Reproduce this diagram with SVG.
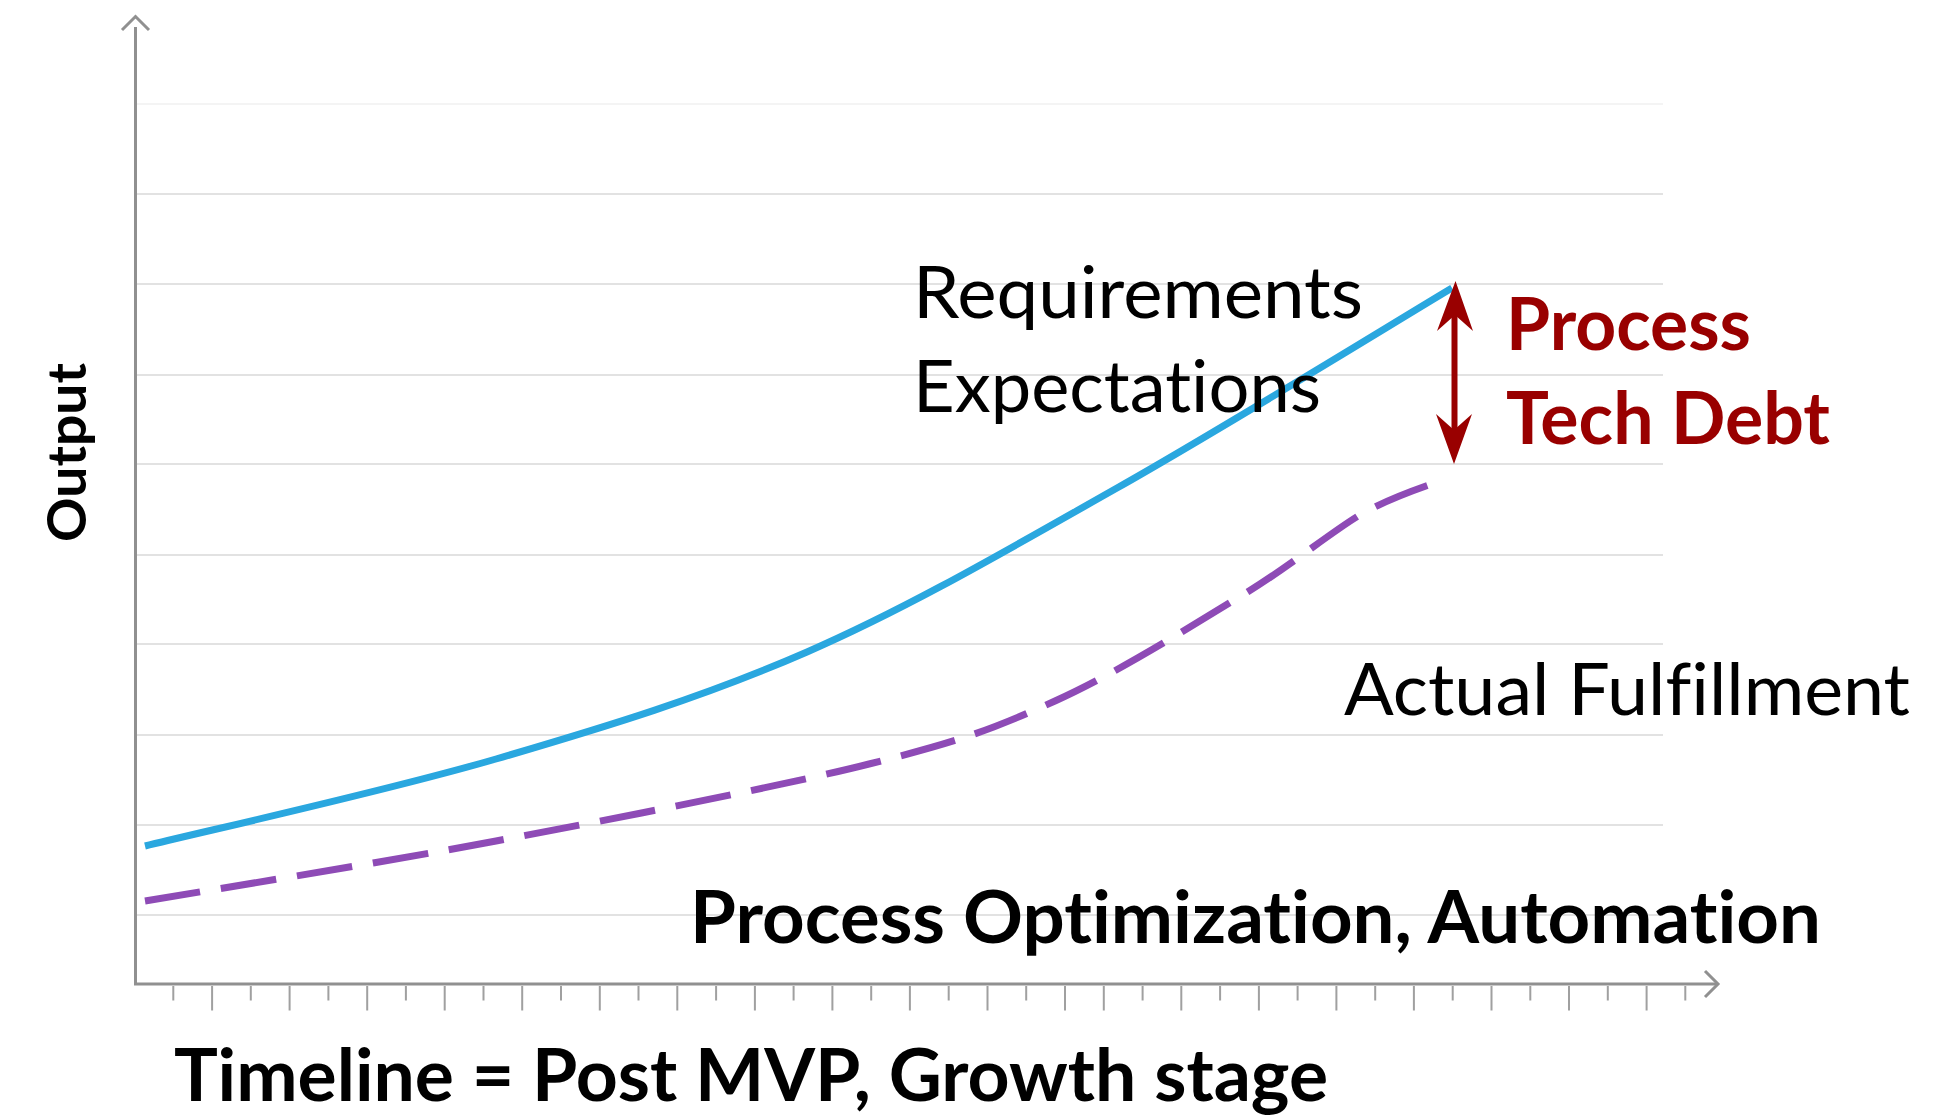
<svg xmlns="http://www.w3.org/2000/svg" width="1946" height="1120" viewBox="0 0 1946 1120">
<style>
.grid{stroke:#d9d9d9;stroke-width:1.5;fill:none}
.axis{stroke:#909090;stroke-width:3;fill:none}
.tick{stroke:#a0a0a0;stroke-width:2;fill:none}
.lbl{font-family:Lato,"Open Sans","Liberation Sans",sans-serif;fill:#000;font-variant-ligatures:none;font-feature-settings:"liga" 0,"dlig" 0}
.reg{font-size:71px;font-weight:400}
.bold{font-size:73px;font-weight:700}
.red{fill:#990000}
</style>
<rect width="1946" height="1120" fill="#ffffff"/>
<g id="gridlines">
<line class="grid" x1="137" y1="104" x2="1663" y2="104" style="stroke:#f0f0f0"/>
<line class="grid" x1="137" y1="194" x2="1663" y2="194"/>
<line class="grid" x1="137" y1="284" x2="1663" y2="284"/>
<line class="grid" x1="137" y1="375" x2="1663" y2="375"/>
<line class="grid" x1="137" y1="464" x2="1663" y2="464"/>
<line class="grid" x1="137" y1="555" x2="1663" y2="555"/>
<line class="grid" x1="137" y1="644" x2="1663" y2="644"/>
<line class="grid" x1="137" y1="735" x2="1663" y2="735"/>
<line class="grid" x1="137" y1="825" x2="1663" y2="825"/>
<line class="grid" x1="137" y1="915" x2="1663" y2="915"/>
</g>
<g id="axes">
<path class="axis" d="M135.5,984 V27"/>
<path class="axis" d="M122,30 L135.5,16.5 L149,30"/>
<path class="axis" d="M134,984 H1716"/>
<path class="axis" d="M1705,971 L1718,984 L1705,997"/>
<path class="tick" d="M173.3,986V1000.5M250.8,986V1000.5M328.4,986V1000.5M405.9,986V1000.5M483.5,986V1000.5M561,986V1000.5M638.5,986V1000.5M716.1,986V1000.5M793.6,986V1000.5M871.2,986V1000.5M948.7,986V1000.5M1026.2,986V1000.5M1142.6,986V1000.5M1220.1,986V1000.5M1297.6,986V1000.5M1375.2,986V1000.5M1452.7,986V1000.5M1530.3,986V1000.5M1607.8,986V1000.5M1685.3,986V1000.5"/>
<path class="tick" d="M212.1,986V1010.5M289.6,986V1010.5M367.2,986V1010.5M444.7,986V1010.5M522.2,986V1010.5M599.8,986V1010.5M677.3,986V1010.5M754.9,986V1010.5M832.4,986V1010.5M909.9,986V1010.5M987.5,986V1010.5M1065,986V1010.5M1103.8,986V1010.5M1181.3,986V1010.5M1258.9,986V1010.5M1336.4,986V1010.5M1413.9,986V1010.5M1491.5,986V1010.5M1569,986V1010.5M1646.6,986V1010.5"/>
</g>
<g id="connectors">
<path id="requirements-curve" d="M145,846 C203.5,831.5 385.7,791.3 496,759 C606.3,726.7 703.5,697.2 807,652 C910.5,606.8 1009.5,548.7 1117,488 C1224.5,427.3 1396.2,321.3 1452,288" fill="none" stroke="#2aa7df" stroke-width="7"/>
<path id="fulfillment-curve" d="M145,901 C203.5,891 375.3,863.8 496,841 C616.7,818.2 775.8,787.3 869,764 C962.2,740.7 993,729 1055,701 C1117,673 1189.3,627.3 1241,596 C1292.7,564.7 1333,530 1365,512 C1393,497 1420,488 1443,480" fill="none" stroke="#8e4bb6" stroke-width="7" stroke-dasharray="56 21"/>
<g id="gap-arrow" fill="#990000">
<line x1="1454.5" y1="312" x2="1454.5" y2="432" stroke="#990000" stroke-width="6"/>
<polygon points="1455.5,281 1473,331 1455,315 1437,331"/>
<polygon points="1454,464 1436,414 1454,430 1472,414"/>
</g>
</g>
<g id="label-requirements">
<text class="lbl reg" x="913" y="318" textLength="450" lengthAdjust="spacingAndGlyphs">Requirements</text>
<text class="lbl reg" x="913" y="412" textLength="408" lengthAdjust="spacingAndGlyphs">Expectations</text>
</g>
<g id="label-techdebt">
<text class="lbl bold red" x="1506" y="350" textLength="245" lengthAdjust="spacingAndGlyphs">Process</text>
<text class="lbl bold red" x="1506" y="444" textLength="324" lengthAdjust="spacingAndGlyphs">Tech Debt</text>
</g>
<g id="label-actual">
<text class="lbl reg" x="1344" y="715" textLength="566" lengthAdjust="spacingAndGlyphs">Actual Fulfillment</text>
</g>
<g id="label-process">
<text class="lbl bold" x="690" y="943" textLength="1131" lengthAdjust="spacingAndGlyphs">Process Optimization, Automation</text>
</g>
<g id="label-timeline">
<text class="lbl bold" x="174" y="1101" textLength="1154" lengthAdjust="spacingAndGlyphs">Timeline = Post MVP, Growth stage</text>
</g>
<g id="label-output">
<text class="lbl" x="0" y="0" font-size="54" font-weight="700" transform="translate(86,542) rotate(-90)" textLength="179" lengthAdjust="spacingAndGlyphs">Output</text>
</g>
</svg>
